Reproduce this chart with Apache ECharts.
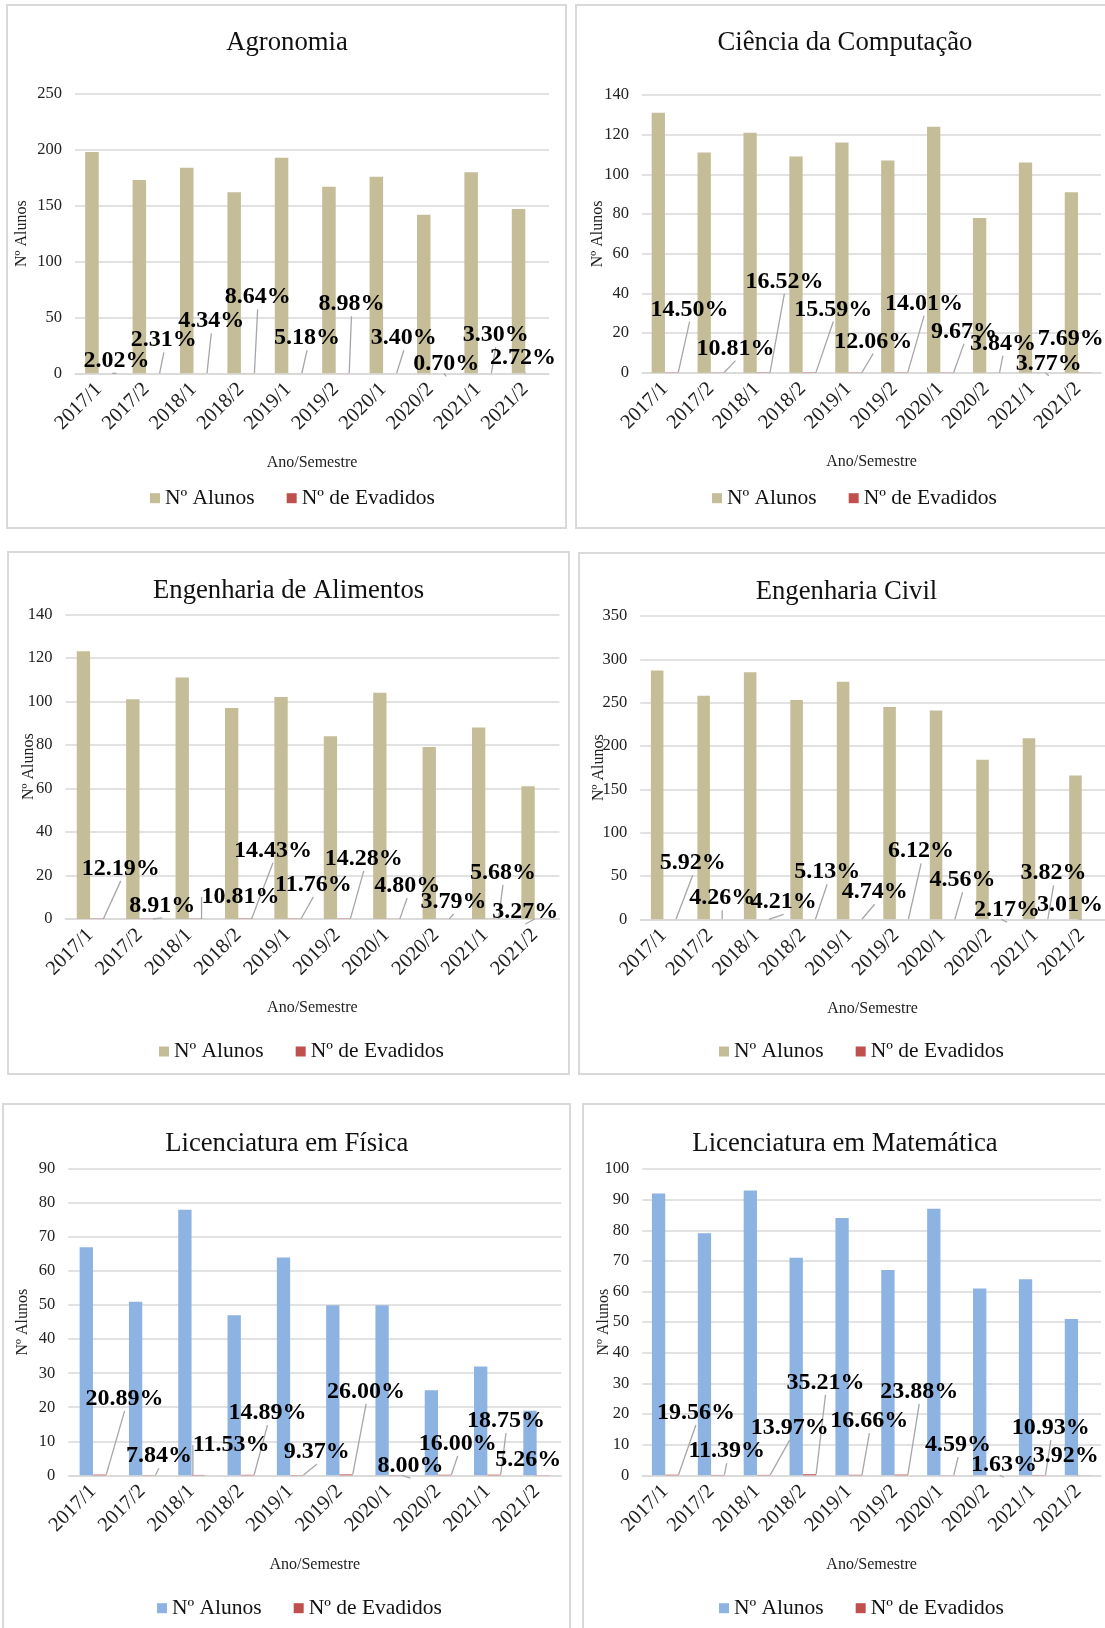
<!DOCTYPE html>
<html><head><meta charset="utf-8">
<script src="https://cdn.jsdelivr.net/npm/echarts@6/dist/echarts.min.js"></script>
<style>html,body{margin:0;padding:0;background:#fff;overflow:hidden}#c{width:1105px;height:1628px}</style>
</head><body><div id="c"></div>
<script>
// ---- data ----
const semesters = ['2017/1','2017/2','2018/1','2018/2','2019/1','2019/2','2020/1','2020/2','2021/1','2021/2'];
const seriesNames = ['Nº Alunos', 'Nº de Evadidos'];
const axisNames = ['Ano/Semestre', 'Nº Alunos'];

const agroAlunos   = [198,173,184,162,193,167,176,142,180,147];
const agroEvadPct  = [2.02,2.31,4.34,8.64,5.18,8.98,3.40,0.70,3.30,2.72];
const compAlunos   = [131,111,121,109,116,107,124,78,106,91];
const compEvadPct  = [14.50,10.81,16.52,15.59,12.06,14.01,9.67,3.84,3.77,7.69];
const alimAlunos   = [123,101,111,97,102,84,104,79,88,61];
const alimEvadPct  = [12.19,8.91,10.81,14.43,11.76,14.28,4.80,3.79,5.68,3.27];
const civilAlunos  = [287,258,285,253,274,245,241,184,209,166];
const civilEvadPct = [5.92,4.26,4.21,5.13,4.74,6.12,4.56,2.17,3.82,3.01];
const fisAlunos    = [67,51,78,47,64,50,50,25,32,19];
const fisEvadPct   = [20.89,7.84,11.53,14.89,9.37,26.00,8.00,16.00,18.75,5.26];
const matAlunos    = [92,79,93,71,84,67,87,61,64,51];
const matEvadPct   = [19.56,11.39,13.97,35.21,16.66,23.88,4.59,1.63,10.93,3.92];

// ---- layout (label displacement, px) ----
const agroLabelShift  = [[11,-12],[11,-33],[11,-52],[10,-76],[12,-35],[9,-69],[14,-35],[9,-9],[11,-38],[-9,-15]];
const compLabelShift  = [[18,-63],[18,-24],[21,-91],[24,-63],[18,-31],[23,-69],[17,-41],[10,-29],[10,-9],[-14,-34]];
const alimLabelShift  = [[24,-50],[16,-13],[45,-22],[28,-68],[19,-34],[20,-60],[14,-33],[11,-17],[11,-46],[-16,-7]];
const civilLabelShift = [[23,-56],[6,-21],[21,-17],[18,-47],[19,-27],[19,-68],[14,-39],[12,-9],[12,-46],[-18,-14]];
const fisLabelShift   = [[25,-76],[10,-19],[33,-30],[20,-62],[20,-23],[20,-83],[15,-9],[13,-31],[12,-54],[-15,-15]];
const matLabelShift   = [[24,-62],[9,-24],[26,-47],[16,-92],[14,-54],[18,-83],[11,-30],[11,-10],[12,-47],[-19,-19]];

const TAN = '#c4bd97', BLUE = '#8db3e2', RED = '#c0504d', GRID = '#d9d9d9';
const FONT = 'Liberation Serif';

const panels = [
  {title:'Agronomia', alunos:agroAlunos, pct:agroEvadPct, shift:agroLabelShift, color:TAN, max:250, interval:50,
   grid:{left:75,top:94,width:474,height:279.3}, gap:'43%', t:[287,41.7], lg:[150,497.7], yGap:45, box:[7,5,559,523]},
  {title:'Ciência da Computação', alunos:compAlunos, pct:compEvadPct, shift:compLabelShift, color:TAN, max:140, interval:20,
   grid:{left:642,top:95,width:459,height:277.7}, gap:'42%', t:[845,41.7], lg:[712,497.7], yGap:36, box:[576,5,560,523]},
  {title:'Engenharia de Alimentos', alunos:alimAlunos, pct:alimEvadPct, shift:alimLabelShift, color:TAN, max:140, interval:20,
   grid:{left:65.4,top:614.3,width:494,height:304.7}, gap:'46%', t:[288.6,589.3], lg:[159,1051], yGap:29, box:[8,552,561,522]},
  {title:'Engenharia Civil', alunos:civilAlunos, pct:civilEvadPct, shift:civilLabelShift, color:TAN, max:350, interval:50,
   grid:{left:640.2,top:616,width:466,height:303.3}, gap:'46%', t:[846.5,590.7], lg:[719,1051], yGap:33, box:[579,553,560,521]},
  {title:'Licenciatura em Física', alunos:fisAlunos, pct:fisEvadPct, shift:fisLabelShift, color:BLUE, max:90, interval:10,
   grid:{left:68.3,top:1169,width:493,height:306.3}, gap:'46%', t:[286.7,1142.7], lg:[157,1607.7], yGap:37.5, box:[3,1104,567,560]},
  {title:'Licenciatura em Matemática', alunos:matAlunos, pct:matEvadPct, shift:matLabelShift, color:BLUE, max:100, interval:10,
   grid:{left:642.3,top:1169,width:458.7,height:306.3}, gap:'42%', t:[845,1142.7], lg:[719,1607.7], yGap:31, box:[583,1104,560,560]}
];

const option = {
  animation:false,
  title:[], grid:[], xAxis:[], yAxis:[], series:[], legend:[], graphic:[]
};

panels.forEach((p, i) => {
  option.graphic.push({type:'rect', shape:{x:p.box[0], y:p.box[1], width:p.box[2], height:p.box[3]},
    style:{fill:'none', stroke:GRID, lineWidth:2}, silent:true, z:-1});
  option.title.push({text:p.title, left:p.t[0], top:p.t[1]-12, textAlign:'center', padding:0,
    textStyle:{fontFamily:FONT, fontSize:26.7, fontWeight:'normal', color:'#111'}});
  option.grid.push(Object.assign({containLabel:false}, p.grid));
  option.xAxis.push({type:'category', gridIndex:i, data:semesters,
    name:axisNames[0], nameLocation:'middle', nameGap:81, nameMoveOverlap:false,
    nameTextStyle:{fontFamily:FONT, fontSize:16, color:'#222'},
    axisTick:{show:false}, axisLine:{lineStyle:{color:GRID, width:1.5}},
    axisLabel:{rotate:45, interval:0, margin:13, fontFamily:FONT, fontSize:20.5, color:'#222'}});
  option.yAxis.push({type:'value', gridIndex:i, min:0, max:p.max, interval:p.interval,
    name:axisNames[1], nameLocation:'middle', nameRotate:90, nameGap:p.yGap, nameMoveOverlap:false,
    nameTextStyle:{fontFamily:FONT, fontSize:16, color:'#222'},
    axisLine:{show:false}, axisTick:{show:false},
    splitLine:{lineStyle:{color:GRID, width:1.5}},
    axisLabel:{margin:13, fontFamily:FONT, fontSize:16.5, color:'#222'}});
  option.series.push({type:'bar', name:seriesNames[0], xAxisIndex:i, yAxisIndex:i,
    data:p.alunos, itemStyle:{color:p.color}, barGap:'0%', barCategoryGap:p.gap});
  const shift = p.shift;
  option.series.push({type:'bar', name:seriesNames[1], xAxisIndex:i, yAxisIndex:i,
    data:p.pct.map(v => v/100), itemStyle:{color:RED}, barGap:'0%', barCategoryGap:p.gap,
    label:{show:true, position:'inside', color:'#000', fontFamily:FONT, fontSize:24, fontWeight:'bold',
      formatter: (d) => (d.value*100).toFixed(2) + '%'},
    labelLine:{show:true, lineStyle:{color:'#a6a6a6', width:1.3}},
    labelLayout: (prm) => ({dx: shift[prm.dataIndex][0], dy: shift[prm.dataIndex][1]})});
  option.legend.push({left:p.lg[0], top:p.lg[1]-10.5, padding:0, itemWidth:10, itemHeight:10, itemGap:32,
    icon:'rect', selectedMode:false,
    textStyle:{fontFamily:FONT, fontSize:21.5, color:'#111'},
    data:[{name:seriesNames[0], itemStyle:{color:p.color}}, {name:seriesNames[1], itemStyle:{color:RED}}]});
});

const chart = echarts.init(document.getElementById('c'), null, {renderer:'canvas'});
chart.setOption(option);
</script></body></html>
